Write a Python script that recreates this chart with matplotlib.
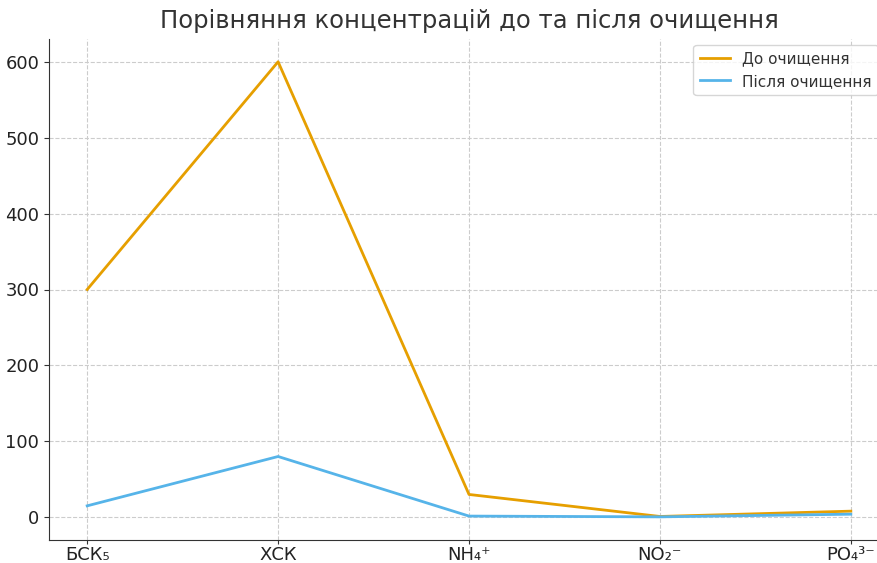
import matplotlib
matplotlib.use("Agg")
import matplotlib.pyplot as plt

plt.rcParams['font.family'] = ['DejaVu Sans', 'Noto Sans']

categories = ['БСК₅', 'ХСК', 'NH₄⁺', 'NO₂⁻', 'PO₄³⁻']
before = [300, 600, 30, 1, 8]
after = [15, 80, 1.5, 0.5, 4]

fig = plt.figure(figsize=(8.78, 5.63), dpi=100)
ax = fig.add_axes([49 / 878, 1 - 540 / 563, 840 / 878, 501 / 563])

x = range(len(categories))
ax.plot(x, before, color='#E69F00', lw=2, label='До очищення')
ax.plot(x, after, color='#56B4E9', lw=2, label='Після очищення')

ax.set_xticks(list(x))
ax.set_xticklabels(categories)
ax.set_ylim(-30, 630)
ax.tick_params(labelsize=13, colors='#333333', labelcolor='#222222')
ax.tick_params(axis='x', pad=1.5, length=3)
ax.grid(True, ls='--', color='#cccccc', lw=0.8)
ax.spines['top'].set_visible(False)
ax.spines['right'].set_visible(False)
ax.spines['left'].set_color('#333333')
ax.spines['bottom'].set_color('#333333')

ax.set_title('Порівняння концентрацій до та після очищення', fontsize=17.5,
             color='#333333', pad=8)
ax.legend(loc='upper right', bbox_to_anchor=(878 / 878, 1 - 45 / 563),
          bbox_transform=fig.transFigure, fontsize=11, borderaxespad=0,
          labelcolor='#333333')

fig.savefig('out.png', dpi=100)
